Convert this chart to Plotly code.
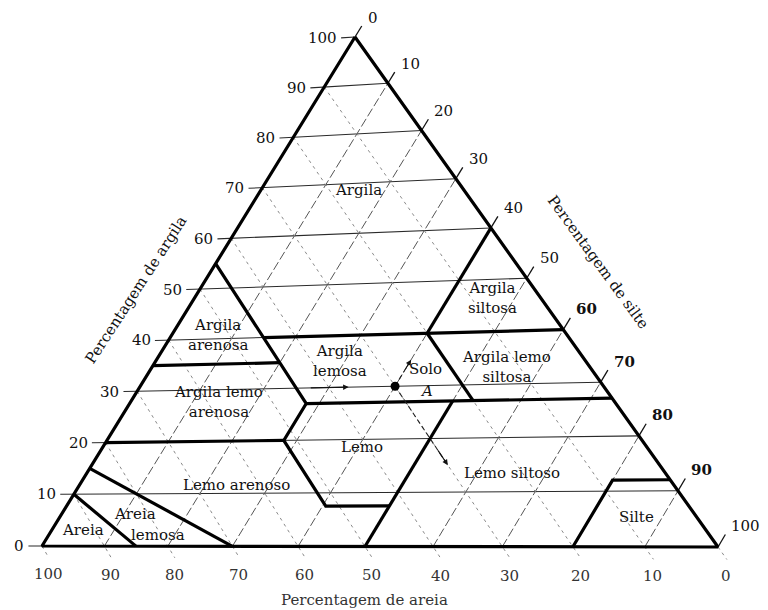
import numpy as np
import plotly.graph_objects as go

# ---------------------------------------------------------------------------
# Textural classes, boundaries given as (clay %, sand %); silt = 100 - clay - sand
# ---------------------------------------------------------------------------
outline = [(100, 0), (0, 100), (0, 0), (100, 0)]
sand45_path = [(55, 45), (27, 45), (20, 52), (7.5, 52), (7.5, 42.5)]
silt50_line = [(0, 50), (27, 23)]
clay40_line = [(40, 45), (40, 0)]
silt40_line = [(60, 0), (40, 20)]
sand20_line = [(40, 20), (27, 20)]
clay27_line = [(27, 45), (27, 0)]
clay35_line = [(35, 65), (35, 45)]
clay20_line = [(20, 80), (20, 52)]
loamy_sand_line = [(15, 85), (0, 70)]
sand_line = [(10, 90), (0, 85)]
silt_path = [(0, 20), (12, 8), (12, 0)]
boundaries = [outline, sand45_path, silt50_line, clay40_line, silt40_line,
              sand20_line, clay27_line, clay35_line, clay20_line,
              loamy_sand_line, sand_line, silt_path]

grid_levels = [10, 20, 30, 40, 50, 60, 70, 80, 90]
tick_levels = [0, 10, 20, 30, 40, 50, 60, 70, 80, 90, 100]
tick_text = [str(t) for t in tick_levels]

# Soil sample A
sample_clay, sample_silt, sample_sand = 30, 40, 30

# ---------------------------------------------------------------------------
# Placement of the triangle on the page: corners and centroid (pixels)
# ---------------------------------------------------------------------------
W, H_PX = 768, 610
SAND_CORNER = (42, 546)
SILT_CORNER = (718, 547)
CLAY_CORNER = (355, 37)
CENTROID = (361.5, 369.5)


def _homography(src, dst):
    rows, rhs = [], []
    for (p, q), (u, v) in zip(src, dst):
        rows.append([p, q, 1, 0, 0, 0, -p * u, -q * u]); rhs.append(u)
        rows.append([0, 0, 0, p, q, 1, -p * v, -q * v]); rhs.append(v)
    h = np.linalg.solve(np.array(rows, float), np.array(rhs, float))
    return np.append(h, 1.0).reshape(3, 3)


HMAT = _homography([(0, 0), (1, 0), (0, 1), (1 / 3, 1 / 3)],
                   [SAND_CORNER, SILT_CORNER, CLAY_CORNER, CENTROID])


def project(clay, sand):
    """Ternary (clay, sand) percentages -> page coordinates."""
    clay = np.atleast_1d(np.asarray(clay, float))
    sand = np.atleast_1d(np.asarray(sand, float))
    silt = 100.0 - clay - sand
    u, v, w = HMAT @ np.vstack([silt / 100.0, clay / 100.0, np.ones_like(clay)])
    return u / w, v / w


def pt(clay, sand):
    x, y = project(clay, sand)
    return float(x[0]), float(y[0])


def polylines(paths):
    xs, ys = [], []
    for path in paths:
        c, s = zip(*path)
        x, y = project(c, s)
        xs += list(x) + [None]
        ys += list(y) + [None]
    return xs, ys


fig = go.Figure()

# --- grid and tick marks ---------------------------------------------------
TICK = 2.2  # tick length, in percent
clay_grid = [[(k, 100 - k + TICK), (k, 0)] for k in grid_levels]
clay_ticks = [[(k, 100 - k), (k, 100 - k + TICK)] for k in (0, 100)]
silt_grid = [[(0, 100 - k), (100 - k, 0)] for k in grid_levels]
silt_ticks = [[(100 - k, 0), (100 - k + TICK, -TICK)] for k in tick_levels]
sand_grid = [[(100 - k, k), (-TICK, k)] for k in grid_levels]
sand_ticks = [[(0, k), (-TICK, k)] for k in (0, 100)]

x, y = polylines(clay_grid + clay_ticks)
fig.add_trace(go.Scatter(x=x, y=y, mode="lines", line=dict(color="#2a2a2a", width=1.1),
                         hoverinfo="skip"))
x, y = polylines(silt_grid)
fig.add_trace(go.Scatter(x=x, y=y, mode="lines",
                         line=dict(color="#555555", width=1, dash="9px,3px"),
                         hoverinfo="skip"))
x, y = polylines(silt_ticks)
fig.add_trace(go.Scatter(x=x, y=y, mode="lines", line=dict(color="#111111", width=1.3),
                         hoverinfo="skip"))
x, y = polylines(sand_grid + sand_ticks)
fig.add_trace(go.Scatter(x=x, y=y, mode="lines",
                         line=dict(color="#8a8a8a", width=1, dash="3px,4px"),
                         hoverinfo="skip"))

# --- class boundaries -------------------------------------------------------
x, y = polylines(boundaries)
fig.add_trace(go.Scatter(x=x, y=y, mode="lines",
                         line=dict(color="#000000", width=3.2),
                         hoverinfo="skip"))

# --- soil A: reading lines and point -------------------------------------
x, y = polylines([[(sample_clay, sample_sand), (15, sample_sand)],
                  [(sample_clay, sample_sand), (35, 25)]])
fig.add_trace(go.Scatter(x=x, y=y, mode="lines",
                         line=dict(color="#222222", width=1.1, dash="5px,3px"),
                         hoverinfo="skip"))
sx, sy = project(sample_clay, sample_sand)
fig.add_trace(go.Scatter(x=sx, y=sy, mode="markers",
                         marker=dict(color="black", size=9), hoverinfo="skip"))

annotations = []
SERIF = "DejaVu Serif"


def arrow(head, tail):
    hx, hy = pt(*head)
    tx, ty = pt(*tail)
    annotations.append(dict(x=hx, y=hy, ax=tx, ay=ty, xref="x", yref="y",
                            axref="x", ayref="y", showarrow=True, arrowhead=2,
                            arrowsize=1, arrowwidth=1.1, arrowcolor="#111",
                            standoff=0, text=""))


arrow((30, 37), (30, 43))
arrow((35, 25), (33, 27))
arrow((15, 30), (18, 30))

# --- tick labels ------------------------------------------------------------
for k, t in zip(tick_levels, tick_text):
    # clay, on the left side
    lx, ly = pt(k, 100 - k + 2.4)
    annotations.append(dict(x=lx, y=ly, xref="x", yref="y", text=t, showarrow=False,
                            xanchor="right", yanchor="middle", xshift=-1,
                            font=dict(family=SERIF, size=15, color="#111")))
    # silt, on the right side
    rx, ry = pt(100 - k + 2.5, -2.5)
    txt = f"<b>{t}</b>" if k in (60, 70, 80, 90) else t
    annotations.append(dict(x=rx, y=ry, xref="x", yref="y", text=txt, showarrow=False,
                            xanchor="left", yanchor="bottom", xshift=3, yshift=-4,
                            font=dict(family=SERIF, size=15, color="#111")))
    # sand, along the bottom
    bx, by = pt(-2.0, k)
    annotations.append(dict(x=bx, y=by, xref="x", yref="y", text=t, showarrow=False,
                            xanchor="center", yanchor="top", yshift=-7,
                            font=dict(family=SERIF, size=15, color="#333")))

# --- class names ------------------------------------------------------------
class_labels = [
    ("Argila", 358, 190), ("Argila<br>siltosa", 492, 298),
    ("Argila<br>arenosa", 218, 335), ("Argila<br>lemosa", 340, 361),
    ("Argila lemo<br>siltosa", 506, 367), ("Argila lemo<br>arenosa", 218, 402),
    ("Lemo", 362, 447), ("Lemo siltoso", 512, 473), ("Lemo arenoso", 236, 485),
    ("Silte", 636, 517), ("Areia", 83, 530), ("Areia", 135, 514),
    ("lemosa", 158, 535), ("Solo", 425, 369), ("<i>A</i>", 426, 391),
]
for text, lx, ly in class_labels:
    annotations.append(dict(x=lx, y=ly, xref="x", yref="y", text=text, showarrow=False,
                            font=dict(family=SERIF, size=15, color="#111")))

# --- axis titles ------------------------------------------------------------
annotations += [
    dict(x=136, y=290, xref="x", yref="y", text="Percentagem de argila",
         textangle=-57, showarrow=False, font=dict(family=SERIF, size=15, color="#111")),
    dict(x=598, y=262, xref="x", yref="y", text="Percentagem de silte",
         textangle=54, showarrow=False, font=dict(family=SERIF, size=15, color="#111")),
    dict(x=364, y=600, xref="x", yref="y", text="Percentagem de areia",
         showarrow=False, font=dict(family=SERIF, size=15, color="#333")),
]

fig.update_layout(
    width=W, height=H_PX, margin=dict(l=0, r=0, t=0, b=0),
    paper_bgcolor="white", plot_bgcolor="white", showlegend=False,
    xaxis=dict(range=[0, W], visible=False, fixedrange=True),
    yaxis=dict(range=[H_PX, 0], visible=False, fixedrange=True),
    annotations=annotations,
)

fig.write_html("out.html")
